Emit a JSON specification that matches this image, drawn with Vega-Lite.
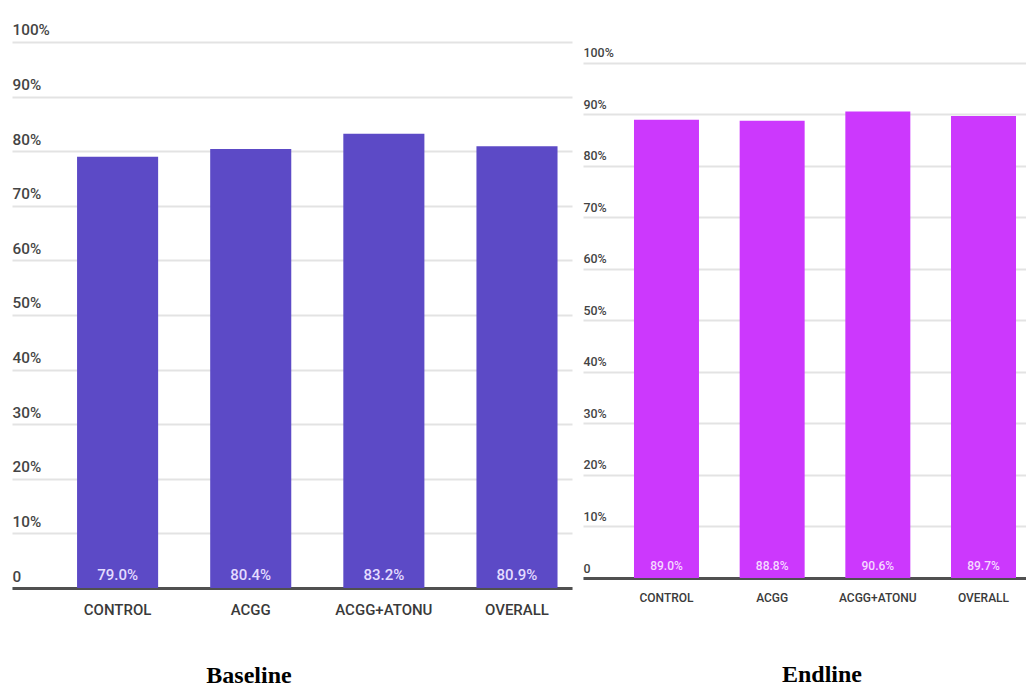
{
  "$schema": "https://vega.github.io/schema/vega-lite/v6.json",
  "background": "white",
  "padding": {"left": 12, "top": 12, "right": 0, "bottom": 0},
  "spacing": 11,
  "datasets": {
    "baseline": [
      {"group": "CONTROL", "share": 0.790},
      {"group": "ACGG", "share": 0.804},
      {"group": "ACGG+ATONU", "share": 0.832},
      {"group": "OVERALL", "share": 0.809}
    ],
    "endline": [
      {"group": "CONTROL", "share": 0.890},
      {"group": "ACGG", "share": 0.888},
      {"group": "ACGG+ATONU", "share": 0.906},
      {"group": "OVERALL", "share": 0.897}
    ]
  },
  "config": {
    "view": {"stroke": null},
    "axis": {
      "labelFont": "Roboto, sans-serif",
      "labelFontWeight": 500,
      "titleFont": "Liberation Serif, Times New Roman, serif"
    }
  },
  "hconcat": [
    {
      "width": 560,
      "height": 576,
      "data": {"name": "baseline"},
      "encoding": {
        "x": {
          "field": "group",
          "type": "nominal",
          "sort": null,
          "scale": {"paddingInner": 0.391, "paddingOuter": 0.2987, "align": 0.818},
          "axis": {
            "title": "Baseline",
            "titleX": 236.5,
            "titleAlign": "center",
            "titlePadding": 46,
            "titleFontSize": 24,
            "titleFontWeight": "bold",
            "titleColor": "#000000",
            "labelAngle": 0,
            "ticks": false,
            "labelPadding": 14,
            "labelFontSize": 15,
            "labelColor": "#3a3a3a",
            "domainColor": "#505050",
            "domainWidth": 3
          }
        }
      },
      "layer": [
        {
          "mark": {"type": "bar", "color": "#5c4ac6"},
          "encoding": {
            "y": {
              "field": "share",
              "type": "quantitative",
              "scale": {"domain": [0, 1.0549], "nice": false},
              "axis": {
                "title": null,
                "values": [0, 0.1, 0.2, 0.3, 0.4, 0.5, 0.6, 0.7, 0.8, 0.9, 1],
                "labelExpr": "datum.value == 0 ? '0' : format(datum.value, '.0%')",
                "labelAlign": "left",
                "labelBaseline": "alphabetic",
                "labelPadding": 0,
                "labelOffset": -7,
                "ticks": false,
                "tickSize": 0,
                "domain": false,
                "labelFontSize": 15.3,
                "labelColor": "#444444",
                "gridColor": "#e3e3e3",
                "gridWidth": 2
              }
            }
          }
        },
        {
          "mark": {
            "type": "text",
            "baseline": "alphabetic",
            "dy": -8,
            "fontSize": 15,
            "fontWeight": 500,
            "font": "Roboto, sans-serif",
            "color": "#e4dcff"
          },
          "encoding": {
            "y": {"datum": 0, "type": "quantitative"},
            "text": {"field": "share", "type": "quantitative", "format": ".1%"}
          }
        }
      ]
    },
    {
      "width": 443,
      "height": 566,
      "data": {"name": "endline"},
      "encoding": {
        "x": {
          "field": "group",
          "type": "nominal",
          "sort": null,
          "scale": {"paddingInner": 0.385, "paddingOuter": 0.2886, "align": 0.836},
          "axis": {
            "title": "Endline",
            "titleX": 238.5,
            "titleAlign": "center",
            "titlePadding": 59,
            "titleFontSize": 24,
            "titleFontWeight": "bold",
            "titleColor": "#000000",
            "labelAngle": 0,
            "ticks": false,
            "labelPadding": 14,
            "labelFontSize": 12,
            "labelColor": "#3a3a3a",
            "domainColor": "#505050",
            "domainWidth": 3
          }
        }
      },
      "layer": [
        {
          "mark": {"type": "bar", "color": "#cc38fd"},
          "encoding": {
            "y": {
              "field": "share",
              "type": "quantitative",
              "scale": {"domain": [0, 1.099], "nice": false},
              "axis": {
                "title": null,
                "values": [0, 0.1, 0.2, 0.3, 0.4, 0.5, 0.6, 0.7, 0.8, 0.9, 1],
                "labelExpr": "datum.value == 0 ? '0' : format(datum.value, '.0%')",
                "labelAlign": "left",
                "labelBaseline": "alphabetic",
                "labelPadding": 0,
                "labelOffset": -6,
                "ticks": false,
                "tickSize": 0,
                "domain": false,
                "labelFontSize": 12.4,
                "labelColor": "#444444",
                "gridColor": "#e3e3e3",
                "gridWidth": 2
              }
            }
          }
        },
        {
          "mark": {
            "type": "text",
            "baseline": "alphabetic",
            "dy": -8,
            "fontSize": 12,
            "fontWeight": 500,
            "font": "Roboto, sans-serif",
            "color": "#f5d9ff"
          },
          "encoding": {
            "y": {"datum": 0, "type": "quantitative"},
            "text": {"field": "share", "type": "quantitative", "format": ".1%"}
          }
        }
      ]
    }
  ]
}
